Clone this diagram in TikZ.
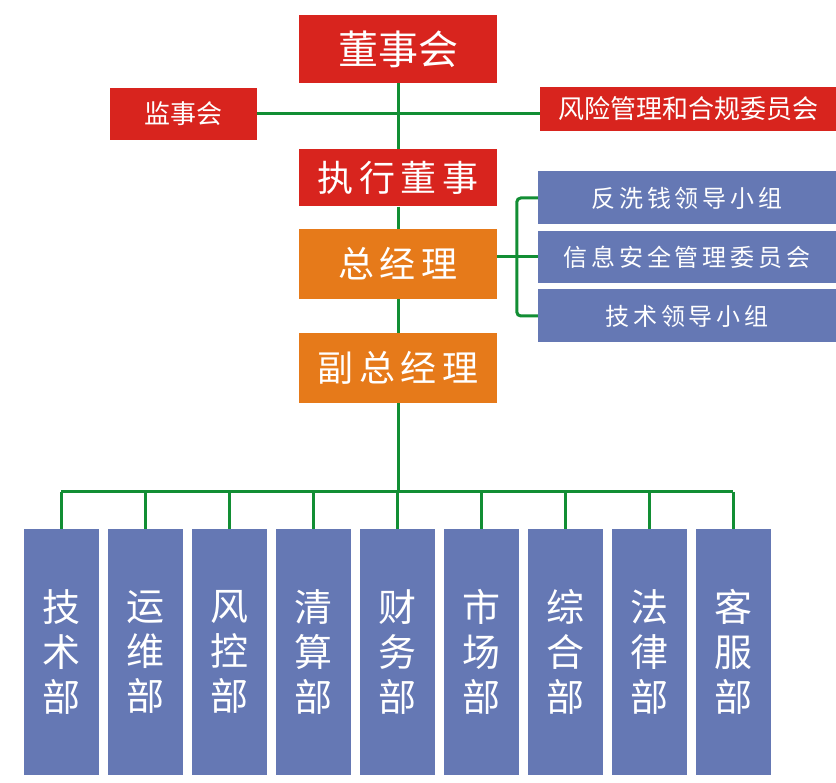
\documentclass[tikz,border=0pt]{standalone}
\usepackage{fontspec}
\newfontfamily\cjk{Noto Sans CJK SC}
\newfontfamily\cjkspaced[LetterSpace=16]{Noto Sans CJK SC}
\definecolor{boardred}{RGB}{216,36,30}
\definecolor{mgmtorange}{RGB}{230,122,26}
\definecolor{deptblue}{RGB}{101,120,180}
\definecolor{linkgreen}{RGB}{18,142,52}
\tikzset{
    orgbox/.style={rectangle, inner sep=0pt, text=white},
    redbox/.style={orgbox, fill=boardred},
    orangebox/.style={orgbox, fill=mgmtorange},
    bluebox/.style={orgbox, fill=deptblue},
    deptbox/.style={bluebox, minimum width=75pt, minimum height=246pt, align=center,
        font=\cjk\fontsize{38}{45}\selectfont},
    link/.style={draw=linkgreen, line width=3pt}
}
\begin{document}
\begin{tikzpicture}[x=1pt, y=1pt]
            \useasboundingbox (0,0) rectangle (836,-783);

            % board level
            \node[redbox, minimum width=198pt, minimum height=68pt, font=\cjk\fontsize{40}{48}\selectfont] (board) at (398,-49) {董事会};
            \node[redbox, minimum width=147pt, minimum height=52pt, font=\cjk\fontsize{26}{30}\selectfont] (supervisors) at (183,-114) {监事会};
            \node[redbox, minimum width=296pt, minimum height=44pt, font=\cjk\fontsize{26}{30}\selectfont] (riskcomm) at (688,-109) {风险管理和合规委员会};

            % management
            \node[redbox, minimum width=198pt, minimum height=57pt, font=\cjkspaced\fontsize{36}{40}\selectfont] (execdir) at (398,-178) {执行董事};
            \node[orangebox, minimum width=198pt, minimum height=70pt, font=\cjkspaced\fontsize{36}{40}\selectfont] (gm) at (398,-264) {总经理};
            \node[orangebox, minimum width=198pt, minimum height=70pt, font=\cjkspaced\fontsize{36}{40}\selectfont] (dgm) at (398,-368) {副总经理};

            % committees under the general manager
            \node[bluebox, minimum width=298pt, minimum height=53pt, font=\cjkspaced\fontsize{24}{28}\selectfont] (amlgroup) at (687,-198) {反洗钱领导小组};
            \node[bluebox, minimum width=298pt, minimum height=52pt, font=\cjkspaced\fontsize{24}{28}\selectfont] (infosec) at (687,-257) {信息安全管理委员会};
            \node[bluebox, minimum width=298pt, minimum height=53pt, font=\cjkspaced\fontsize{24}{28}\selectfont] (techgroup) at (687,-316) {技术领导小组};

            % departments
            \foreach \name [count=\i from 0] in {技\\术\\部, 运\\维\\部, 风\\控\\部, 清\\算\\部, 财\\务\\部, 市\\场\\部, 综\\合\\部, 法\\律\\部, 客\\服\\部}
                \node[deptbox] (dept\i) at (61+84*\i,-652) {\name};

            \coordinate (bus) at (398,-492);

            % connectors
            \draw[link] (board.south) -- (execdir.north);
            \draw[link] (supervisors.east) -- (riskcomm.west |- supervisors.east);
            \draw[link] (execdir.south) -- (gm.north);
            \draw[link] (gm.south) -- (dgm.north);
            \draw[link] (dgm.south) -- (bus);
            \draw[link] (gm.east |- infosec.west) -- (infosec.west);
            \draw[link, rounded corners=4pt] (amlgroup.west) -- ++(-21,0) |- (techgroup.west);
            \draw[link] (dept0.north |- bus) -- (dept8.north |- bus);
            \foreach \i in {0,...,8}
                \draw[link] (dept\i.north |- bus) -- (dept\i.north);
        \end{tikzpicture}
\end{document}
